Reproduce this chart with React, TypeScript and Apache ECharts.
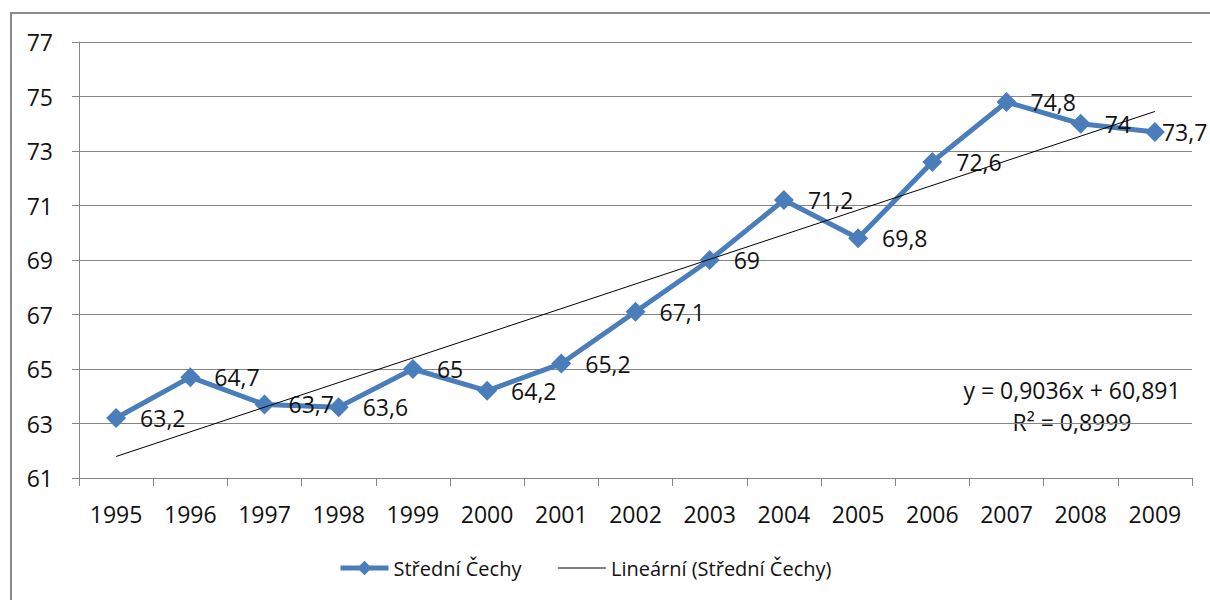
import React, { useEffect, useRef } from "react";
import * as echarts from "echarts";

const years = ["1995","1996","1997","1998","1999","2000","2001","2002","2003","2004","2005","2006","2007","2008","2009"];
const stredniCechy = [63.2, 64.7, 63.7, 63.6, 65, 64.2, 65.2, 67.1, 69, 71.2, 69.8, 72.6, 74.8, 74, 73.7];
const trendStart = 61.79;
const trendEnd = 74.45;
const equationText = "y = 0,9036x + 60,891";
const r2Text = "R² = 0,8999";
const seriesName = "Střední Čechy";
const trendName = "Lineární (Střední Čechy)";

const FONT = "'Open Sans', 'Noto Sans', sans-serif";
const TXT = "#111111";

export default function App() {
  const ref = useRef<HTMLDivElement>(null);
  useEffect(() => {
    if (!ref.current) return;
    const chart = echarts.init(ref.current, undefined, { renderer: "svg" });
    const lineData = stredniCechy.map((v, i) =>
      i === stredniCechy.length - 1
        ? { value: v, label: { distance: 0, offset: [-3, 0] } }
        : v
    );
    chart.setOption({
      animation: false,
      backgroundColor: "#ffffff",
      textStyle: { fontFamily: FONT },
      grid: { left: 79, right: 18, top: 42, bottom: 122 },
      graphic: [
        {
          type: "rect",
          shape: { x: 11, y: 13, width: 1300, height: 700 },
          style: { fill: "none", stroke: "#8a8a8a", lineWidth: 2 },
          silent: true,
          z: -1,
        },
        {
          type: "text",
          x: 1072,
          y: 390,
          style: { text: equationText, font: `23px ${FONT}`, fill: TXT, textAlign: "center", textVerticalAlign: "middle" },
        },
        {
          type: "text",
          x: 1072,
          y: 422,
          style: { text: r2Text, font: `23px ${FONT}`, fill: TXT, textAlign: "center", textVerticalAlign: "middle" },
        },
      ],
      legend: {
        bottom: 17,
        left: 333,
        itemGap: 36,
        itemWidth: 48,
        itemHeight: 18,
        textStyle: { fontFamily: FONT, fontSize: 20, color: TXT },
        data: [
          { name: seriesName, lineStyle: { width: 5, color: "#4a7ebb" } },
          { name: trendName, itemStyle: { opacity: 0 }, lineStyle: { width: 1, color: "#000000" } },
        ],
      },
      xAxis: {
        type: "category",
        data: years,
        boundaryGap: true,
        axisLine: { lineStyle: { color: "#868686", width: 1 } },
        axisTick: { show: true, length: 8, lineStyle: { color: "#868686" } },
        axisLabel: { fontFamily: FONT, fontSize: 23, color: TXT, margin: 24 },
        splitLine: { show: false },
      },
      yAxis: {
        type: "value",
        min: 61,
        max: 77,
        interval: 2,
        axisLine: { show: true, lineStyle: { color: "#868686", width: 1 } },
        axisTick: { show: true, length: 7, lineStyle: { color: "#868686" } },
        axisLabel: { fontFamily: FONT, fontSize: 23, color: TXT, margin: 26 },
        splitLine: { show: true, lineStyle: { color: "#868686", width: 1 } },
      },
      series: [
        {
          name: seriesName,
          type: "line",
          data: lineData,
          symbol: "diamond",
          symbolSize: 20,
          color: "#4a7ebb",
          lineStyle: { color: "#4a7ebb", width: 5 },
          itemStyle: { color: "#4a7ebb" },
          label: {
            show: true,
            position: "right",
            distance: 14,
            fontFamily: FONT,
            fontSize: 23,
            color: TXT,
            formatter: (p: any) => String(p.value).replace(".", ","),
          },
          z: 2,
        },
        {
          name: trendName,
          type: "line",
          data: [[0, trendStart], [years.length - 1, trendEnd]],
          symbol: "none",
          color: "#000000",
          lineStyle: { color: "#000000", width: 1 },
          z: 3,
        },
      ],
    });
    return () => chart.dispose();
  }, []);
  return <div ref={ref} style={{ position: "fixed", left: 0, top: 0, width: 1210, height: 600 }} />;
}
